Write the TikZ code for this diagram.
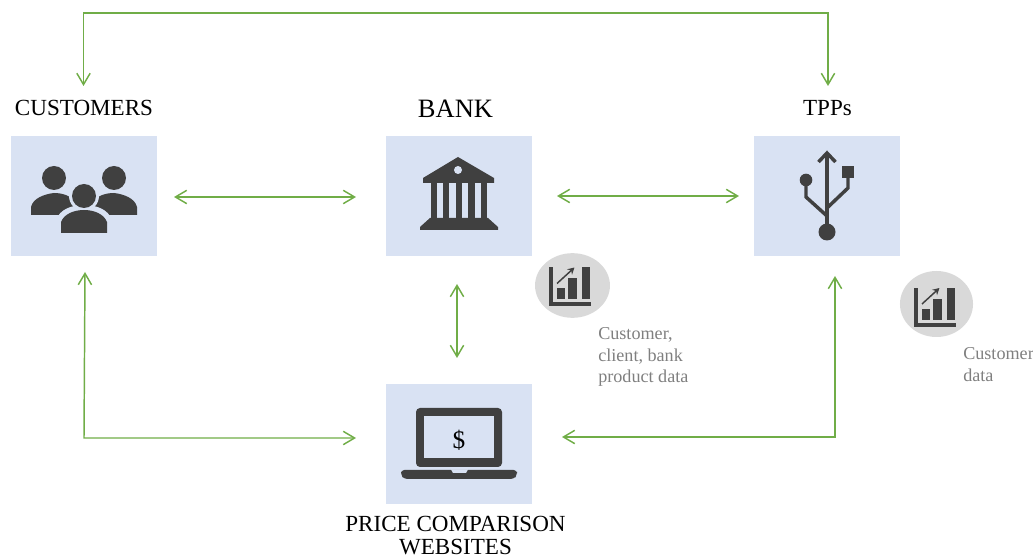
\documentclass[tikz,border=0pt]{standalone}
\usepackage{fontspec}
\setmainfont{Liberation Serif}
\usetikzlibrary{arrows.meta,shapes.geometric}
\definecolor{boxblue}{HTML}{D9E2F3}
\definecolor{icon}{HTML}{404040}
\definecolor{link}{HTML}{70AD47}
\definecolor{disc}{HTML}{D9D9D9}
\definecolor{note}{HTML}{7F7F7F}
\tikzset{
  tile/.style={fill=boxblue,draw=none,minimum width=109.5pt,minimum height=90pt,inner sep=0pt,outer sep=0pt},
  biglabel/.style={font=\fontsize{17.3pt}{19pt}\selectfont,inner sep=0pt,align=center},
  notelabel/.style={font=\fontsize{13.6pt}{16.1pt}\selectfont,text=note,inner sep=0pt,anchor=north west,align=left},
  chartdisc/.style={ellipse,fill=disc,draw=none,inner sep=0pt,outer sep=0pt},
  wire/.style={draw=link,line width=1.1pt,{Straight Barb[length=8.5pt,width=10pt,line width=1.1pt]}-{Straight Barb[length=8.5pt,width=10pt,line width=1.1pt]}},
  chart/.pic={
    \fill[icon] (-23.5,-18) rectangle (-19.5,20);
    \fill[icon] (-23.5,17) rectangle (18.5,21);
    \fill[icon] (-15.5,3) rectangle (-7.5,14);
    \fill[icon] (-4.5,-7) rectangle (4.5,14);
    \fill[icon] (9.5,-18) rectangle (17.5,14);
    \draw[icon,line width=1.1pt,-{Stealth[length=5pt,width=5.5pt]}] (-15.5,-2) -- (2,-18);
  }
}
\begin{document}
\begin{tikzpicture}[x=0.75pt,y=-0.75pt]
\useasboundingbox (0,0) rectangle (1033,559);
% tiles
\node[tile] (cust) at (84,196) {};
\node[tile] (bank) at (459,196) {};
\node[tile] (tpp) at (827,196) {};
\node[tile] (pcw) at (459,444) {};
% labels
\node[biglabel] (custL) at (84,108) {CUSTOMERS};
\node[biglabel,font=\fontsize{19.9pt}{22pt}\selectfont] (bankL) at (455.5,109) {BANK};
\node[biglabel] (tppL) at (827.5,108) {TPPs};
\node[biglabel] (pcwL1) at (455.5,524) {PRICE COMPARISON};
\node[biglabel] (pcwL2) at (455.5,547.5) {WEBSITES};
% customers icon
\fill[icon] (54,178) circle (12);
\fill[icon] (114,178) circle (12);
\fill[icon] (31,215) -- (31,207) .. controls (33,198) and (45,194) .. (54,193) .. controls (63,193) and (70,196) .. (76,201) -- (76,215) -- cycle;
\fill[icon] (137,215) -- (137,207) .. controls (135,198) and (123,194) .. (114,193) .. controls (105,193) and (98,196) .. (92,201) -- (92,215) -- cycle;
\fill[boxblue] (84,196) circle (15);
\fill[boxblue] (56,234) -- (56,220) .. controls (60,209) and (72,205) .. (84,205) .. controls (96,205) and (108,209) .. (112,220) -- (112,234) -- cycle;
\fill[icon] (84,196) circle (12);
\fill[icon] (61,233) -- (61,222) .. controls (64,214) and (74,210) .. (84,210) .. controls (94,210) and (104,214) .. (107,222) -- (107,233) -- cycle;
% bank icon
\fill[icon] (458,157) -- (494,178) -- (494,183) -- (423,183) -- (423,178) -- cycle;
\fill[boxblue] (458,170) circle (4);
\foreach \cx in {434,446,459,471.5,484} \fill[icon] (\cx-3.2,183) rectangle (\cx+3.2,219);
\fill[icon] (430,218) -- (488,218) -- (498,227) -- (498,230) -- (420,230) -- (420,227) -- cycle;
% usb icon
\draw[icon,line width=2.6pt] (827,153) -- (827,232);
\draw[icon,line width=2.6pt] (818.5,162) -- (827,153) -- (835.5,162);
\fill[icon] (827,232) circle (8.5);
\fill[icon] (806,180) circle (6.3);
\draw[icon,line width=2.6pt] (806,180) -- (806,197) -- (827,216);
\fill[icon] (842,166) rectangle (854,178);
\draw[icon,line width=2.6pt] (848,178) -- (848,188) -- (827,208);
% laptop icon
\fill[icon,rounded corners=3] (416,467) rectangle (502,408);
\fill[boxblue] (424,416) rectangle (494,458);
\fill[icon,rounded corners=2.5] (401,470) -- (517,470) -- (517,475) -- (514,479) -- (404,479) -- (401,475) -- cycle;
\fill[boxblue] (451,469.5) -- (468,469.5) -- (466,473) -- (453,473) -- cycle;
\node[font=\fontsize{19pt}{21pt}\selectfont,inner sep=0pt] (dollar) at (459,440) {\$};
% chart discs
\node[chartdisc,minimum width=56.2pt,minimum height=48.5pt] (discA) at (572.5,285.5) {};
\pic at (discA.center) {chart};
\node[chartdisc,minimum width=54.8pt,minimum height=49.5pt] (discB) at (936.5,304) {};
\pic at ([shift={(1,2)}]discB.center) {chart};
% notes
\node[notelabel] (noteA) at (598,327.5) {Customer,\\client, bank\\product data};
\node[notelabel] (noteB) at (963,347.5) {Customer\\data};
% connector ends
\coordinate (topL) at (83.5,86);
\coordinate (topLc) at (83.5,13);
\coordinate (topRc) at (828,13);
\coordinate (topR) at (828,86);
\coordinate (custE) at (174,197);
\coordinate (bankW) at (356,197);
\coordinate (bankE) at (557,196);
\coordinate (tppW) at (739,196);
\coordinate (bankS) at (457,284);
\coordinate (pcwN) at (457,358);
\coordinate (custS) at (85,272);
\coordinate (custC) at (84,438);
\coordinate (pcwW) at (356,438);
\coordinate (tppS) at (835,276);
\coordinate (tppC) at (835,437);
\coordinate (pcwE) at (562,437);
% connectors
\draw[wire] (topL) -- (topLc) -- (topRc) -- (topR);
\draw[wire] (custE) -- (bankW);
\draw[wire] (bankE) -- (tppW);
\draw[wire] (bankS) -- (pcwN);
\draw[wire] (custS) -- (custC) -- (pcwW);
\draw[wire] (tppS) -- (tppC) -- (pcwE);
\end{tikzpicture}
\end{document}
